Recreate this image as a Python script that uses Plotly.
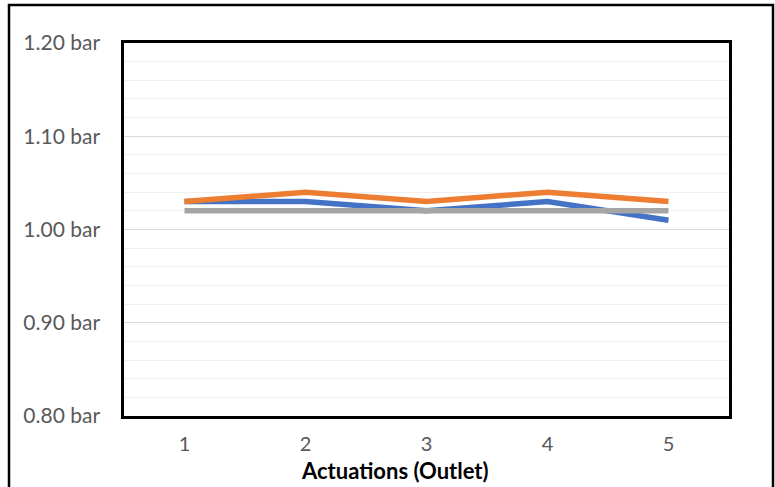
import plotly.graph_objects as go

actuations = [1, 2, 3, 4, 5]
series_blue = [1.03, 1.03, 1.02, 1.03, 1.01]
series_orange = [1.03, 1.04, 1.03, 1.04, 1.03]
series_gray = [1.02, 1.02, 1.02, 1.02, 1.02]
y_ticks = [0.80, 0.90, 1.00, 1.10, 1.20]
y_tick_labels = ["0.80 bar", "0.90 bar", "1.00 bar", "1.10 bar", "1.20 bar"]
x_title = "Actuations (Outlet)"

W, H = 775, 487
L, R, T, B = 124, 46, 43, 71
pw, ph = W - L - R, H - T - B

fig = go.Figure()
for vals, col in [(series_blue, "#4472C4"), (series_orange, "#ED7D31"), (series_gray, "#A5A5A5")]:
    fig.add_trace(go.Scatter(x=actuations, y=vals, mode="lines",
                             line=dict(color=col, width=5.5), showlegend=False))

font = "Lato, 'Open Sans', sans-serif"
fig.update_layout(
    width=W, height=H,
    margin=dict(l=L, r=R, t=T, b=B),
    paper_bgcolor="white", plot_bgcolor="white",
    font=dict(family=font, color="#595959"),
    xaxis=dict(range=[0.5, 5.5], tickvals=actuations, ticktext=[str(a) for a in actuations],
               showgrid=False, zeroline=False, showline=True, linecolor="black", linewidth=2.5,
               mirror=True, ticks="outside", ticklen=8, tickcolor="rgba(0,0,0,0)",
               tickfont=dict(size=20, color="#595959")),
    yaxis=dict(range=[0.80, 1.20], tickvals=y_ticks, ticktext=y_tick_labels,
               showgrid=True, gridcolor="#D9D9D9", gridwidth=1, zeroline=False,
               showline=True, linecolor="black", linewidth=2.5, mirror=True,
               ticks="", ticklabelstandoff=17,
               tickfont=dict(size=21, color="#595959"),
               minor=dict(dtick=0.02, showgrid=True, gridcolor="#F0F0F0", gridwidth=1)),
)

fig.add_annotation(text="<b>" + x_title + "</b>", xref="paper", yref="paper",
                   x=(395 - L) / pw, y=-(470 - (T + ph)) / ph, showarrow=False,
                   font=dict(size=22, color="black", family=font), xanchor="center", yanchor="middle")

fig.add_shape(type="rect", xref="paper", yref="paper",
              x0=(9 - L) / pw, x1=(773 - L) / pw, y0=-(495 - (T + ph)) / ph, y1=1 + (T - 5) / ph,
              line=dict(color="black", width=2.5), layer="below")

fig.write_html("out.html", config={"displayModeBar": False},
               post_script="document.body.style.margin='0px';")
